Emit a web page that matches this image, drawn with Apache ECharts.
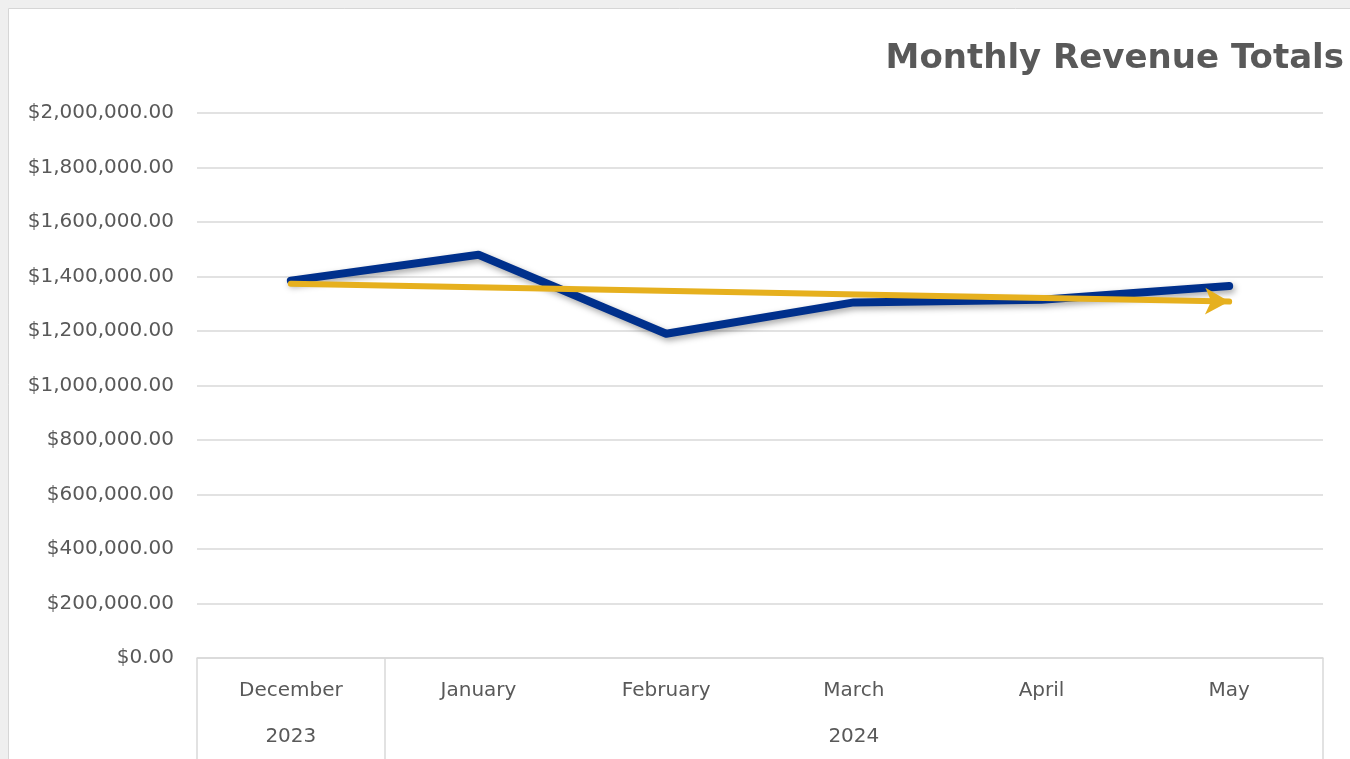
<!DOCTYPE html>
<html>
<head>
<meta charset="utf-8">
<script src="https://cdn.jsdelivr.net/npm/echarts@6/dist/echarts.min.js"></script>
<style>
html,body{margin:0;padding:0;background:#efefef;}
#chart{width:1350px;height:759px;}
</style>
</head>
<body>
<div id="chart"></div>
<script>
const months = ['December', 'January', 'February', 'March', 'April', 'May'];
const yearGroups = ['2023', '2024'];
const yearCounts = [1, 5];
const revenue = [1385000, 1480000, 1190000, 1305000, 1315000, 1365000];
const trendEnds = [1373000, 1308000];
const yTicks = [0, 200000, 400000, 600000, 800000, 1000000, 1200000, 1400000, 1600000, 1800000, 2000000];

// year label centres and dividers along the month axis (in category units)
const yearCenters = [];
const yearDividers = [0];
let acc = 0;
yearCounts.forEach(c => { yearCenters.push(acc + c / 2); acc += c; yearDividers.push(acc); });

const labelFont = 'DejaVu Sans';
const textColor = '#595959';
const fmtMoney = v => '$' + v.toLocaleString('en-US', {minimumFractionDigits: 2, maximumFractionDigits: 2});

const chart = echarts.init(document.getElementById('chart'), null, {renderer: 'canvas'});
chart.setOption({
  backgroundColor: '#efefef',
  animation: false,
  graphic: [{
    type: 'rect', z: -100, silent: true,
    shape: {x: 8.5, y: 8.5, width: 1400, height: 800},
    style: {fill: '#ffffff', stroke: '#d6d6d6', lineWidth: 1}
  }],
  title: {
    text: 'Monthly Revenue Totals',
    right: 1, top: 37,
    textStyle: {fontFamily: labelFont, fontWeight: 'bold', fontSize: 34, color: textColor}
  },
  grid: {left: 197, right: 27, top: 113, bottom: 101, containLabel: false},
  xAxis: [{
    type: 'category',
    data: months,
    boundaryGap: true,
    axisLine: {show: true, lineStyle: {color: '#d9d9d9', width: 1.5}},
    axisTick: {show: false},
    axisLabel: {margin: 23, fontFamily: labelFont, fontSize: 20, color: textColor}
  }, {
    type: 'value',
    position: 'bottom',
    min: 0, max: months.length,
    axisLine: {show: false},
    splitLine: {show: false},
    axisTick: {show: true, customValues: yearDividers, length: 110, lineStyle: {color: '#d9d9d9', width: 1.5}},
    axisLabel: {
      customValues: yearCenters, margin: 69,
      fontFamily: labelFont, fontSize: 20, color: textColor,
      formatter: v => { const i = yearCenters.indexOf(v); return i >= 0 ? yearGroups[i] : ''; }
    }
  }],
  yAxis: {
    type: 'value',
    min: yTicks[0], max: yTicks[yTicks.length - 1], interval: yTicks[1] - yTicks[0],
    axisLine: {show: false},
    axisTick: {show: false},
    splitLine: {lineStyle: {color: '#d9d9d9', width: 1.5}},
    axisLabel: {margin: 23, fontFamily: labelFont, fontSize: 20, color: textColor, formatter: fmtMoney}
  },
  series: [{
    name: 'Revenue',
    type: 'line',
    data: revenue,
    symbol: 'none',
    z: 3,
    lineStyle: {
      color: '#00308C', width: 8, cap: 'round', join: 'round',
      shadowColor: 'rgba(0,0,0,0.35)', shadowBlur: 6, shadowOffsetX: 2, shadowOffsetY: 3
    }
  }, {
    name: 'Trend',
    type: 'line',
    data: [],
    z: 5,
    markLine: {
      silent: true,
      symbol: ['none', 'arrow'],
      symbolSize: [20, 24],
      label: {show: false},
      lineStyle: {type: 'solid', color: '#E6B01E', width: 6, cap: 'round'},
      data: [[
        {coord: [months[0], trendEnds[0]]},
        {coord: [months[months.length - 1], trendEnds[1]]}
      ]]
    }
  }]
});
</script>
</body>
</html>
